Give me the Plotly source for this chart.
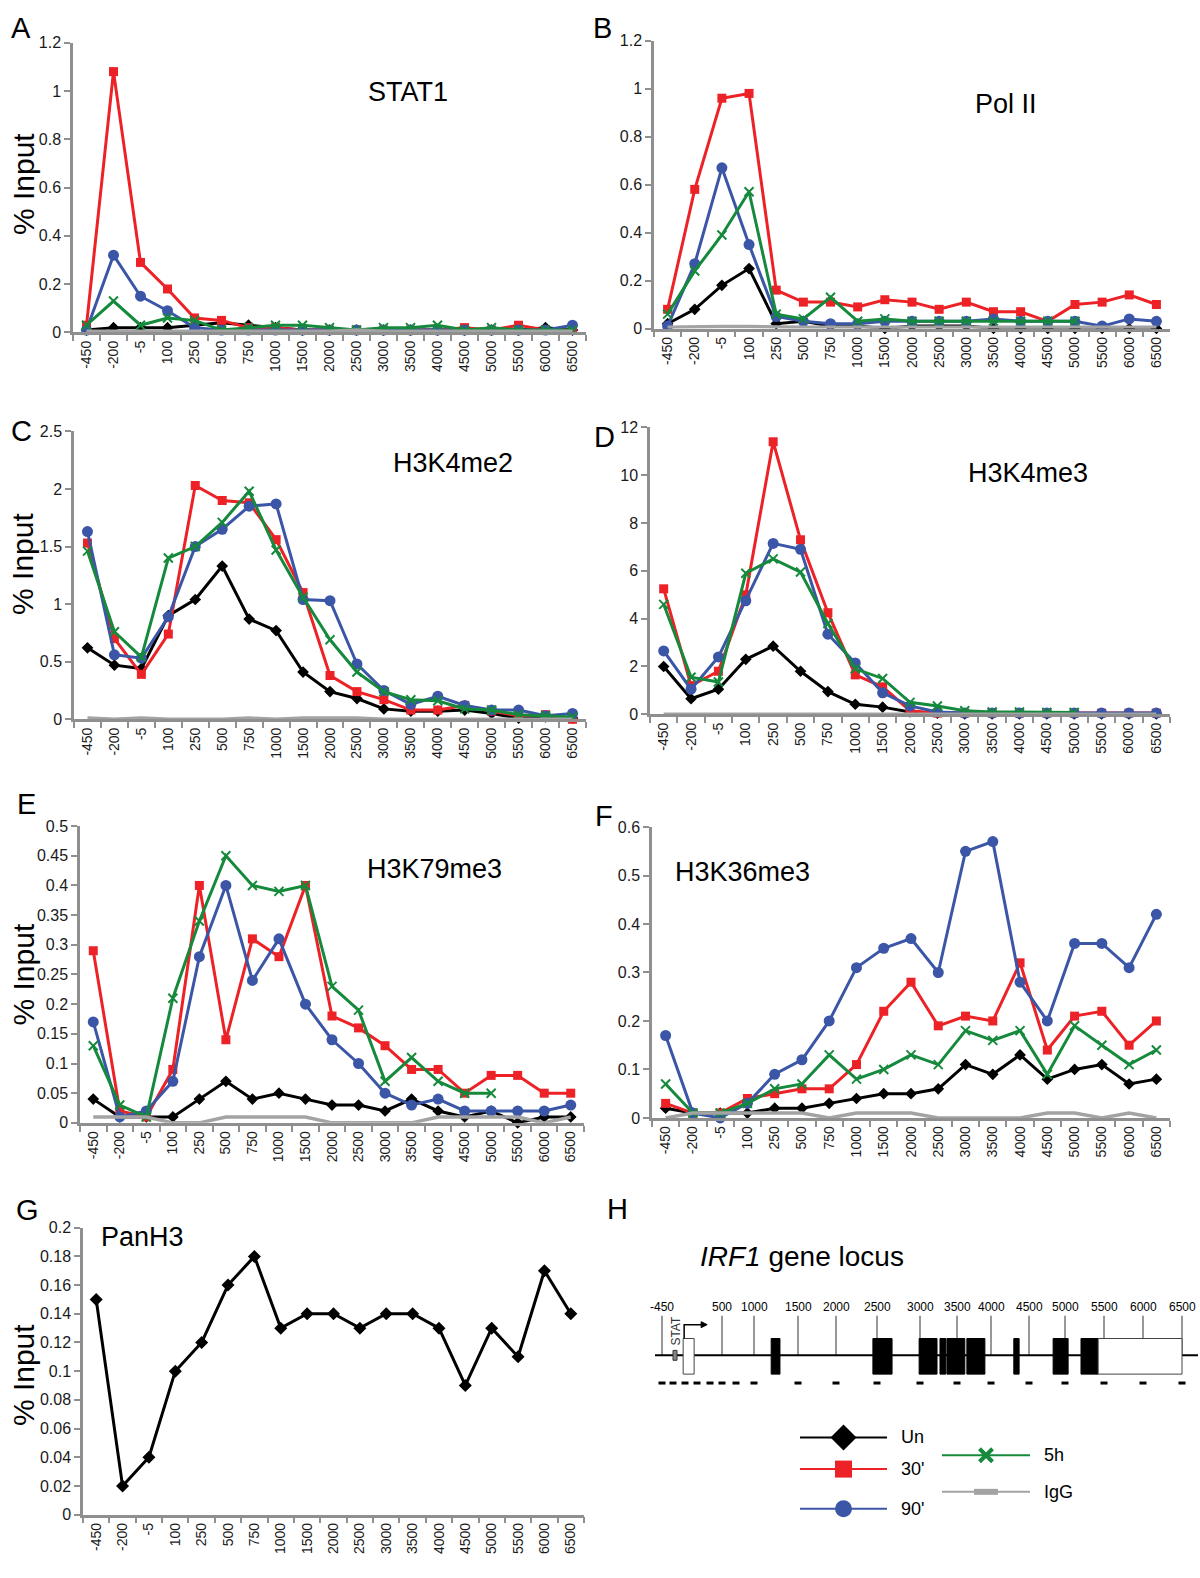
import plotly.graph_objects as go
import numpy as np

W, H = 1200, 1578

positions = ["-450", "-200", "-5", "100", "250", "500", "750", "1000", "1500", "2000",
             "2500", "3000", "3500", "4000", "4500", "5000", "5500", "6000", "6500"]
series_names = ["Un", "30'", "90'", "5h", "IgG"]
N = None

# ---- A: STAT1 ----
stat1_un = [0.01, 0.02, 0.02, 0.02, 0.03, 0.04, 0.03, 0.02, 0.01, 0.01, 0.01, 0.01, 0.01, 0.01, 0.01, 0.01, 0.01, 0.02, 0.01]
stat1_30 = [0.03, 1.08, 0.29, 0.18, 0.06, 0.05, 0.02, 0.02, 0.01, 0.01, 0.01, 0.01, 0.01, 0.01, 0.02, 0.01, 0.03, 0.01, 0.01]
stat1_90 = [0.01, 0.32, 0.15, 0.09, 0.02, 0.01, 0.01, 0.01, 0.01, 0.01, 0.01, 0.01, 0.01, 0.01, 0.01, 0.01, 0.01, 0.01, 0.03]
stat1_5h = [0.03, 0.13, 0.03, 0.06, 0.05, 0.01, 0.02, 0.03, 0.03, 0.02, 0.01, 0.02, 0.02, 0.03, 0.01, 0.02, 0.01, 0.01, 0.01]
stat1_igg = [0.005, 0.005, 0.005, 0.005, 0.005, 0.005, 0.005, 0.005, 0.005, 0.005, 0.01, 0.005, 0.005, 0.005, 0.005, 0.005, 0.005, 0.005, 0.005]

# ---- B: Pol II ----
pol2_un = [0.02, 0.08, 0.18, 0.25, 0.02, 0.03, 0.01, 0.01, 0.0, 0.01, 0.01, 0.01, 0.0, 0.0, 0.0, 0.0, 0.0, 0.0, 0.0]
pol2_30 = [0.08, 0.58, 0.96, 0.98, 0.16, 0.11, 0.11, 0.09, 0.12, 0.11, 0.08, 0.11, 0.07, 0.07, 0.03, 0.10, 0.11, 0.14, 0.10]
pol2_90 = [0.01, 0.27, 0.67, 0.35, 0.05, 0.03, 0.02, 0.02, 0.03, 0.03, 0.03, 0.03, 0.04, 0.03, 0.03, 0.03, 0.01, 0.04, 0.03]
pol2_5h = [0.06, 0.24, 0.39, 0.57, 0.06, 0.04, 0.13, 0.03, 0.04, 0.03, 0.03, 0.03, 0.03, 0.03, 0.03, 0.03, N, N, N]
pol2_igg = [0.005, 0.008, 0.008, 0.008, 0.005, 0.005, 0.005, 0.005, 0.005, 0.005, 0.005, 0.005, 0.005, 0.005, 0.005, 0.005, 0.005, 0.005, 0.005]

# ---- C: H3K4me2 ----
k4me2_un = [0.62, 0.47, 0.44, 0.90, 1.04, 1.33, 0.87, 0.77, 0.41, 0.24, 0.18, 0.09, 0.07, 0.07, 0.08, 0.05, 0.01, 0.02, 0.01]
k4me2_30 = [1.53, 0.70, 0.39, 0.74, 2.03, 1.90, 1.88, 1.56, 1.10, 0.38, 0.24, 0.17, 0.08, 0.08, 0.12, 0.07, 0.03, 0.04, 0.00]
k4me2_90 = [1.63, 0.56, 0.53, 0.89, 1.50, 1.65, 1.85, 1.87, 1.04, 1.03, 0.48, 0.25, 0.13, 0.20, 0.12, 0.08, 0.08, 0.03, 0.05]
k4me2_5h = [1.46, 0.76, 0.54, 1.40, 1.50, 1.71, 1.98, 1.47, 1.06, 0.69, 0.41, 0.24, 0.17, 0.16, 0.09, 0.08, 0.04, 0.03, 0.02]
k4me2_igg = [0.01, 0.0, 0.01, 0.0, 0.0, 0.0, 0.01, 0.0, 0.01, 0.01, 0.01, 0.0, 0.0, 0.0, 0.0, 0.0, 0.0, 0.0, 0.0]

# ---- D: H3K4me3 ----
k4me3_un = [2.0, 0.65, 1.05, 2.3, 2.85, 1.8, 0.95, 0.42, 0.3, 0.1, 0.05, 0.02, 0.02, 0.02, 0.02, 0.02, 0.02, 0.02, 0.02]
k4me3_30 = [5.25, 1.2, 1.8, 5.0, 11.4, 7.3, 4.25, 1.65, 1.15, 0.15, 0.05, 0.05, 0.05, 0.05, 0.05, 0.05, 0.05, 0.05, 0.05]
k4me3_90 = [2.65, 1.05, 2.4, 4.75, 7.15, 6.9, 3.35, 2.15, 0.9, 0.35, 0.1, 0.05, 0.05, 0.05, 0.05, 0.05, 0.05, 0.05, 0.05]
k4me3_5h = [4.6, 1.55, 1.35, 5.9, 6.5, 5.95, 3.8, 1.9, 1.5, 0.5, 0.35, 0.15, 0.1, 0.1, 0.08, 0.08, N, N, N]
k4me3_igg = [0.0] * 19

# ---- E: H3K79me3 ----
k79_un = [0.04, 0.01, 0.01, 0.01, 0.04, 0.07, 0.04, 0.05, 0.04, 0.03, 0.03, 0.02, 0.04, 0.02, 0.01, 0.02, 0.0, 0.01, 0.01]
k79_30 = [0.29, 0.02, 0.01, 0.09, 0.40, 0.14, 0.31, 0.28, 0.40, 0.18, 0.16, 0.13, 0.09, 0.09, 0.05, 0.08, 0.08, 0.05, 0.05]
k79_90 = [0.17, 0.01, 0.02, 0.07, 0.28, 0.40, 0.24, 0.31, 0.20, 0.14, 0.10, 0.05, 0.03, 0.04, 0.02, 0.02, 0.02, 0.02, 0.03]
k79_5h = [0.13, 0.03, 0.01, 0.21, 0.34, 0.45, 0.40, 0.39, 0.40, 0.23, 0.19, 0.07, 0.11, 0.07, 0.05, 0.05, N, N, N]
k79_igg = [0.01, 0.01, 0.01, 0.0, 0.0, 0.01, 0.01, 0.01, 0.01, 0.0, 0.0, 0.0, 0.0, 0.01, 0.01, 0.01, 0.01, 0.0, 0.01]

# ---- F: H3K36me3 ----
k36_un = [0.02, 0.01, 0.01, 0.01, 0.02, 0.02, 0.03, 0.04, 0.05, 0.05, 0.06, 0.11, 0.09, 0.13, 0.08, 0.10, 0.11, 0.07, 0.08]
k36_30 = [0.03, 0.01, 0.01, 0.04, 0.05, 0.06, 0.06, 0.11, 0.22, 0.28, 0.19, 0.21, 0.20, 0.32, 0.14, 0.21, 0.22, 0.15, 0.20]
k36_90 = [0.17, 0.01, 0.0, 0.03, 0.09, 0.12, 0.20, 0.31, 0.35, 0.37, 0.30, 0.55, 0.57, 0.28, 0.20, 0.36, 0.36, 0.31, 0.42]
k36_5h = [0.07, 0.01, 0.01, 0.03, 0.06, 0.07, 0.13, 0.08, 0.10, 0.13, 0.11, 0.18, 0.16, 0.18, 0.09, 0.19, 0.15, 0.11, 0.14]
k36_igg = [0.0, 0.01, 0.01, 0.01, 0.01, 0.01, 0.0, 0.01, 0.01, 0.01, 0.0, 0.0, 0.0, 0.0, 0.01, 0.01, 0.0, 0.01, 0.0]

# ---- G: PanH3 ----
panh3_un = [0.15, 0.02, 0.04, 0.10, 0.12, 0.16, 0.18, 0.13, 0.14, 0.14, 0.13, 0.14, 0.14, 0.13, 0.09, 0.13, 0.11, 0.17, 0.14]

# ---- H: IRF1 gene locus schematic (bp) ----
locus_tick_bp = [-450, 500, 1000, 1500, 2000, 2500, 3000, 3500, 4000, 4500, 5000, 5500, 6000, 6500]
primer_bp = [-450, -200, -5, 100, 250, 500, 750, 1000, 1500, 2000, 2500, 3000, 3500, 4000, 4500, 5000, 5500, 6000, 6500]
coding_exons_bp = [(1195, 1295), (2450, 2675), (2990, 3230), (3270, 3350), (3365, 3615),
                   (3645, 3910), (4300, 4370), (4835, 5040), (5205, 5425)]
utr_exons_bp = [(-35, 75), (5425, 6515)]
stat_site_bp = (-200, -135)

FONT = "Arial, Liberation Sans, Helvetica, sans-serif"
RED, BLUE, GREEN, GREY = "#ec2227", "#3b56a6", "#168a3c", "#a3a3a3"
AX = "#8f8f8f"

styles = {
    "Un": dict(line=dict(color="black", width=3), marker=dict(symbol="diamond", size=9, color="black"), mode="lines+markers"),
    "30'": dict(line=dict(color=RED, width=3), marker=dict(symbol="square", size=9, color=RED), mode="lines+markers"),
    "90'": dict(line=dict(color=BLUE, width=3), marker=dict(symbol="circle", size=11, color=BLUE), mode="lines+markers"),
    "5h": dict(line=dict(color=GREEN, width=3), marker=dict(symbol="x-thin", size=9, line=dict(color=GREEN, width=2)), mode="lines+markers"),
    "IgG": dict(line=dict(color=GREY, width=3.5), mode="lines"),
}

panels = [
    dict(letter="A", title="STAT1", data=[stat1_un, stat1_30, stat1_90, stat1_5h, stat1_igg],
         box=(73, 586, 35, 328), ymax=1.2, dtick=0.2, ylab=(23, 178), title_xy=(408, 85), letter_xy=(21, 20)),
    dict(letter="B", title="Pol II", data=[pol2_un, pol2_30, pol2_90, pol2_5h, pol2_igg],
         box=(654, 1170, 33, 324), ymax=1.2, dtick=0.2, ylab=None, title_xy=(1006, 97), letter_xy=(602, 20)),
    dict(letter="C", title="H3K4me2", data=[k4me2_un, k4me2_30, k4me2_90, k4me2_5h, k4me2_igg],
         box=(74, 586, 428, 719), ymax=2.5, dtick=0.5, ylab=(23, 562), title_xy=(453, 460), letter_xy=(21, 428)),
    dict(letter="D", title="H3K4me3", data=[k4me3_un, k4me3_30, k4me3_90, k4me3_5h, k4me3_igg],
         box=(650, 1170, 424, 714), ymax=12, dtick=2, ylab=None, title_xy=(1028, 470), letter_xy=(604, 434)),
    dict(letter="E", title="H3K79me3", data=[k79_un, k79_30, k79_90, k79_5h, k79_igg],
         box=(80, 584, 827, 1127), ymax=0.5, dtick=0.05, ylab=(23, 977), title_xy=(434, 870), letter_xy=(26, 805)),
    dict(letter="F", title="H3K36me3", data=[k36_un, k36_30, k36_90, k36_5h, k36_igg],
         box=(652, 1170, 828, 1122), ymax=0.6, dtick=0.1, ylab=None, title_xy=(742, 873), letter_xy=(604, 817)),
    dict(letter="G", title="PanH3", data=[panh3_un],
         box=(83, 584, 1233, 1523), ymax=0.2, dtick=0.02, ylab=(23, 1382), title_xy=(142, 1242), letter_xy=(27, 1215)),
]

fig = go.Figure()
layout = dict(width=W, height=H, margin=dict(l=0, r=0, t=0, b=0),
              paper_bgcolor="white", plot_bgcolor="rgba(0,0,0,0)", showlegend=False,
              font=dict(family=FONT, color="#222"))
annotations = []
shapes = []

def px_x(v):
    return v / W

def px_y(v):
    return 1 - v / H

for i, p in enumerate(panels, start=1):
    x0, x1, yt, yb = p["box"]
    layout[f"xaxis{i}"] = dict(domain=[px_x(x0), px_x(x1)], anchor=f"y{i}", type="category",
                               categoryorder="array", categoryarray=positions, range=[-0.5, 18.5],
                               tickson="boundaries", ticks="outside", ticklen=6, tickwidth=2, tickcolor=AX,
                               showline=True, linecolor=AX, linewidth=2.5, showgrid=False, zeroline=False,
                               tickangle=-90, tickfont=dict(size=14, family=FONT, color="#1a1a1a"), fixedrange=True)
    layout[f"yaxis{i}"] = dict(domain=[px_y(yb), px_y(yt)], anchor=f"x{i}", range=[0, p["ymax"]],
                               dtick=p["dtick"], tick0=0, ticks="outside", ticklen=6, tickwidth=2, tickcolor=AX,
                               showline=True, linecolor=AX, linewidth=2.5, showgrid=False, zeroline=False,
                               tickfont=dict(size=16, family=FONT, color="#1a1a1a"), fixedrange=True)
    for name, vals in zip(series_names, p["data"]):
        st = styles[name]
        if p["letter"] == "G":
            st = dict(line=dict(color="black", width=3), marker=dict(symbol="diamond", size=10, color="black"), mode="lines+markers")
        fig.add_trace(go.Scatter(x=positions, y=vals, name=name, xaxis=f"x{i}", yaxis=f"y{i}",
                                 cliponaxis=False, connectgaps=False, hoverinfo="skip", **st))
    annotations.append(dict(text=p["title"], x=px_x(p["title_xy"][0]), y=px_y(p["title_xy"][1]),
                            xref="paper", yref="paper", showarrow=False, xanchor="center", yanchor="middle",
                            font=dict(size=27, family=FONT, color="black")))
    annotations.append(dict(text=p["letter"], x=px_x(p["letter_xy"][0]), y=px_y(p["letter_xy"][1]),
                            xref="paper", yref="paper", showarrow=False, xanchor="center", yanchor="middle",
                            font=dict(size=29, family=FONT, color="black")))
    if p["ylab"]:
        annotations.append(dict(text="% Input", x=px_x(p["ylab"][0]), y=px_y(p["ylab"][1]),
                                xref="paper", yref="paper", showarrow=False, textangle=-90,
                                xanchor="center", yanchor="middle",
                                font=dict(size=30, family=FONT, color="black")))

# ---- overlay pixel axis for panel H ----
layout["xaxis9"] = dict(domain=[0, 1], range=[0, W], visible=False, fixedrange=True, anchor="y9")
layout["yaxis9"] = dict(domain=[0, 1], range=[H, 0], visible=False, fixedrange=True, anchor="x9")

# schematic (not drawn to scale): piecewise-linear map from bp to drawing position
schem_anchor_px = [662, 673, 685, 697, 710, 722, 736, 754, 798, 836, 877, 920, 957, 991, 1029, 1065, 1104, 1143, 1182]

def sx(bp):
    return float(np.interp(bp, primer_bp, schem_anchor_px))

annotations.append(dict(text="H", x=px_x(617), y=px_y(1232), xref="paper", yref="paper", showarrow=False,
                        font=dict(size=29, family=FONT, color="black")))
annotations.append(dict(text="<i>IRF1</i> gene locus", x=px_x(906), y=px_y(1280), xref="paper", yref="paper",
                        showarrow=False, font=dict(size=28, family=FONT, color="black")))

GL = 1362       # gene line y
BT, BB = 1345, 1381
for bp in locus_tick_bp:
    xx = sx(bp)
    shapes.append(dict(type="line", xref="x9", yref="y9", x0=xx, x1=xx, y0=1322, y1=GL,
                       line=dict(color="#333", width=1)))
    annotations.append(dict(text=str(bp), x=xx, y=1313, xref="x9", yref="y9", showarrow=False,
                            font=dict(size=12, family=FONT, color="black")))
shapes.append(dict(type="line", xref="x9", yref="y9", x0=655, x1=1198, y0=GL, y1=GL,
                   line=dict(color="black", width=2)))
for s, e in coding_exons_bp:
    shapes.append(dict(type="rect", xref="x9", yref="y9", x0=sx(s), x1=sx(e), y0=BT, y1=BB,
                       fillcolor="black", line=dict(color="black", width=1)))
for s, e in utr_exons_bp:
    shapes.append(dict(type="rect", xref="x9", yref="y9", x0=sx(s), x1=sx(e), y0=BT, y1=BB,
                       fillcolor="white", line=dict(color="#444", width=1)))
# STAT site
shapes.append(dict(type="rect", xref="x9", yref="y9", x0=sx(stat_site_bp[0]), x1=sx(stat_site_bp[1]),
                   y0=1357, y1=1367, fillcolor="#888", line=dict(color="#333", width=1)))
annotations.append(dict(text="STAT", x=sx(stat_site_bp[0]) + 3, y=1337, xref="x9", yref="y9", showarrow=False,
                        textangle=-90, font=dict(size=12, family=FONT, color="#333")))
# transcription start arrow
tss = sx(utr_exons_bp[0][0]) + 1
shapes.append(dict(type="path", xref="x9", yref="y9",
                   path=f"M {tss} {BT} L {tss} 1331 L {tss+18} 1331", line=dict(color="black", width=1.5)))
shapes.append(dict(type="path", xref="x9", yref="y9",
                   path=f"M {tss+17} 1328 L {tss+23} 1331 L {tss+17} 1334 Z", fillcolor="black",
                   line=dict(color="black", width=1)))
# primer dashes
for bp in primer_bp:
    xx = sx(bp)
    shapes.append(dict(type="line", xref="x9", yref="y9", x0=xx - 3.5, x1=xx + 3.5, y0=1390, y1=1390,
                       line=dict(color="black", width=3)))

# ---- legend for panel H ----
leg_items = [
    ("Un", 800, 887, 1445),
    ("30'", 800, 887, 1477),
    ("90'", 800, 887, 1517),
    ("5h", 942, 1030, 1463),
    ("IgG", 942, 1030, 1500),
]
leg_marker = {
    "Un": dict(symbol="diamond", size=20, color="black"),
    "30'": dict(symbol="square", size=17, color=RED),
    "90'": dict(symbol="circle", size=17, color=BLUE),
    "5h": dict(symbol="x-thin", size=13, line=dict(color=GREEN, width=4)),
}
leg_color = {"Un": "black", "30'": RED, "90'": BLUE, "5h": GREEN, "IgG": GREY}
for name, xa, xb, yy in leg_items:
    xm = (xa + xb) / 2
    fig.add_trace(go.Scatter(x=[xa, xb], y=[yy, yy], mode="lines", xaxis="x9", yaxis="y9",
                             line=dict(color=leg_color[name], width=2), hoverinfo="skip"))
    if name == "IgG":
        fig.add_trace(go.Scatter(x=[xm - 12, xm + 12], y=[yy, yy], mode="lines", xaxis="x9", yaxis="y9",
                                 line=dict(color=GREY, width=6), hoverinfo="skip"))
    else:
        fig.add_trace(go.Scatter(x=[xm], y=[yy], mode="markers", xaxis="x9", yaxis="y9",
                                 marker=leg_marker[name], hoverinfo="skip"))
    annotations.append(dict(text=name, x=xb + 12, y=yy, xref="x9", yref="y9", showarrow=False,
                            xanchor="left", yanchor="middle", font=dict(size=18, family=FONT, color="black")))

layout["annotations"] = annotations
layout["shapes"] = shapes
fig.update_layout(**layout)

post = ("document.documentElement.style.margin='0';document.body.style.margin='0';"
        "document.body.style.padding='0';document.body.style.overflow='hidden';"
        "var d=document.getElementById('{plot_id}');d.style.position='fixed';d.style.top='0px';d.style.left='0px';")
fig.write_html("out.html", config={"displayModeBar": False}, post_script=post)
